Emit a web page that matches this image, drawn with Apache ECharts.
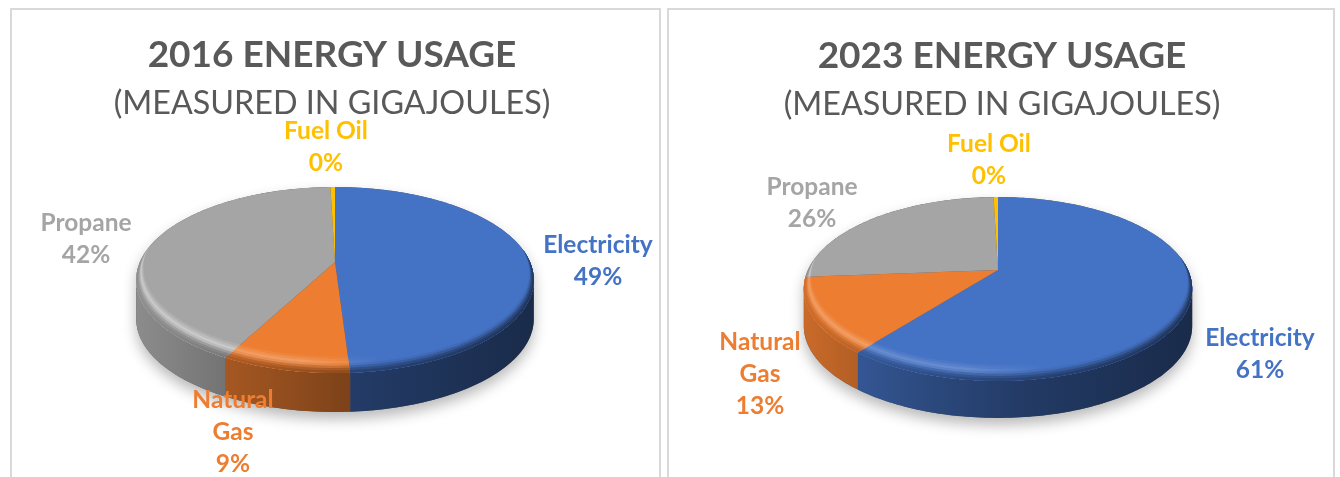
<!DOCTYPE html>
<html>
<head>
<meta charset="utf-8">
<style>
  html, body { margin: 0; padding: 0; background: #fff; }
  #main { width: 1340px; height: 477px; }
</style>
<script src="https://cdn.jsdelivr.net/npm/echarts@6/dist/echarts.min.js"></script>
</head>
<body>
<div id="main"></div>
<script>
const categories = ['Electricity', 'Natural Gas', 'Propane', 'Fuel Oil']
const labelNames = ['Electricity', 'Natural\nGas', 'Propane', 'Fuel Oil']
const usage2016 = [49.0, 8.7, 41.85, 0.45]
const usage2023 = [60.6, 13.2, 25.75, 0.45]
const colors = ['#4472c4', '#ed7d31', '#a5a5a5', '#ffc000']
const rimGlow = [0.18, 0.24, 0.4, 0.2]

// where each pie sits on the page, apex = centre of the tilted disc
const pie2016 = {
  apexX: 335, apexY: 262, b: 195, a: 89.5, k: -0.1935, depth: 39,
  labels: [[598, 261], [233, 432], [86, 239], [326, 147]]
}
const pie2023 = {
  apexX: 998, apexY: 270, b: 190, a: 88, k: -0.2065, depth: 37,
  labels: [[1260, 354], [760, 374], [812, 203], [989, 160]]
}

// bevel strips from inner to outer: how far in, how much glow, how much wall colour
const bevelStrips = [
  [1, 0.25, 0], [0.86, 0.6, 0], [0.72, 1, 0], [0.58, 0.8, 0.1],
  [0.44, 0.4, 0.35], [0.3, 0.1, 0.65], [0.16, 0, 0.85]
]
const shadeStops = [0, 0.22, 0.42, 0.62, 1]

function mixRgb(c, target, amount) {
  return [0, 1, 2].map(n => c[n] + (target[n] - c[n]) * amount)
}
function toCss(c) {
  return 'rgb(' + c.map(Math.round).join(',') + ')'
}

// how much of the base colour is lost on the side wall, left to right
function wallLoss(t) {
  if (t < 0.22) return 0.15 + (0.3 - 0.15) * t / 0.22
  if (t < 0.55) return 0.3 + (0.48 - 0.3) * (t - 0.22) / 0.33
  return 0.48 + (0.62 - 0.48) * (t - 0.55) / 0.45
}

// perspective map from angle on the disc (clockwise from 12 o'clock) to the page
function project(p, angle, scale) {
  const u = Math.sin(angle)
  const v = -Math.cos(angle)
  const w = 1 + p.k * v
  const s = scale === undefined ? 1 : scale
  return [p.apexX + s * p.b * u / w, p.apexY + s * p.a * v / w]
}

function sampleAngles(from, to) {
  const n = Math.max(2, Math.ceil((to - from) / 0.02))
  const out = []
  for (let i = 0; i <= n; i++) out.push(from + (to - from) * i / n)
  return out
}

function makePie(p, values) {
  const total = values.reduce((s, v) => s + v, 0)
  const left = p.apexX - p.b / Math.sqrt(1 - p.k * p.k)
  const right = p.apexX + p.b / Math.sqrt(1 - p.k * p.k)
  const wallFrom = Math.acos(p.k)
  const wallTo = Math.PI * 2 - wallFrom
  const black = [0, 0, 0]
  const white = [255, 255, 255]

  const wallFill = i => {
    const base = echarts.color.parse(colors[i]).slice(0, 3)
    return new echarts.graphic.LinearGradient(left, 0, right, 0, [0, 0.22, 0.55, 1].map(t => ({
      offset: t,
      color: toCss(mixRgb(base, black, wallLoss(t)))
    })), true)
  }

  const rimFill = (i, glow, toWall) => {
    const base = echarts.color.parse(colors[i]).slice(0, 3)
    return new echarts.graphic.LinearGradient(left, 0, right, 0, shadeStops.map(t => {
      const lit = t < 0.62 ? Math.min(1, (0.62 - t) / 0.2) : 0
      const c = mixRgb(base, white, rimGlow[i] * glow * lit)
      return { offset: t, color: toCss(mixRgb(c, mixRgb(base, black, wallLoss(t)), toWall)) }
    }), true)
  }

  return {
    type: 'custom',
    coordinateSystem: 'none',
    silent: true,
    data: values.map((v, i) => ({ name: categories[i], value: v })),
    renderItem: function (params, api) {
      const i = params.dataIndex
      const base = colors[i]
      const before = values.slice(0, i).reduce((s, v) => s + v, 0)
      const start = before / total * Math.PI * 2
      const end = (before + api.value(0)) / total * Math.PI * 2
      const children = []

      // disc outline with drop shadow, only once
      if (i === 0) {
        const outline = sampleAngles(wallFrom, wallTo).map(a => {
          const q = project(p, a)
          return [q[0], q[1] + p.depth]
        })
        sampleAngles(wallTo, wallFrom + Math.PI * 2).forEach(a => outline.push(project(p, a)))
        children.push({
          type: 'polygon',
          z2: -5,
          shape: { points: outline },
          style: {
            fill: '#555',
            shadowColor: 'rgba(0,0,0,0.28)',
            shadowBlur: 14,
            shadowOffsetY: 7
          }
        })
      }

      // side wall
      const wFrom = Math.max(start, wallFrom)
      const wTo = Math.min(end, wallTo)
      if (wTo > wFrom) {
        const topEdge = sampleAngles(wFrom, wTo).map(a => project(p, a))
        const lowEdge = topEdge.map(q => [q[0], q[1] + p.depth]).reverse()
        children.push({
          type: 'polygon',
          z2: 1,
          shape: { points: topEdge.concat(lowEdge) },
          style: { fill: wallFill(i) }
        })
      }

      // top face
      const face = [[p.apexX, p.apexY]]
      sampleAngles(start, end).forEach(a => face.push(project(p, a)))
      children.push({
        type: 'polygon',
        z2: 2,
        shape: { points: face },
        style: { fill: base }
      })

      // soft bevel along the near rim
      const bevelFrom = Math.max(start, Math.acos(p.k) - 0.45)
      const bevelTo = Math.min(end, Math.PI * 2 - Math.acos(p.k) + 0.45)
      if (bevelTo > bevelFrom && i !== 3) {
        bevelStrips.forEach((strip, j) => {
          const angles = sampleAngles(bevelFrom, bevelTo)
          const outer = angles.map(a => project(p, a))
          const inner = angles.map(a => {
            const v = -Math.cos(a)
            const t = Math.max(0, (v + 0.15) / 1.15)
            return project(p, a, 1 - 0.15 * t * strip[0])
          }).reverse()
          children.push({
            type: 'polygon',
            z2: 3 + j,
            shape: { points: outer.concat(inner) },
            style: { fill: rimFill(i, strip[1], strip[2]) }
          })
        })
      }

      // data label
      const pct = Math.round(api.value(0) / total * 100)
      children.push({
        type: 'text',
        z2: 20,
        style: {
          x: p.labels[i][0],
          y: p.labels[i][1],
          text: labelNames[i] + '\n' + pct + '%',
          fill: base,
          font: 'bold 24.5px Lato',
          lineHeight: 32,
          align: 'center',
          verticalAlign: 'middle'
        }
      })

      return { type: 'group', children: children }
    }
  }
}

const chart = echarts.init(document.getElementById('main'))

function titleBlock(text, sub, x, y) {
  return [
    {
      text: text,
      left: x,
      top: y,
      textAlign: 'center',
      padding: 0,
      textStyle: { fontFamily: 'Lato', fontWeight: 'bold', fontSize: 37, color: '#595959' }
    },
    {
      text: sub,
      left: x,
      top: y + 51,
      textAlign: 'center',
      padding: 0,
      textStyle: { fontFamily: 'Lato', fontWeight: 'normal', fontSize: 32.3, color: '#595959' }
    }
  ]
}

chart.setOption({
  animation: false,
  backgroundColor: '#fff',
  title: titleBlock('2016 ENERGY USAGE', '(MEASURED IN GIGAJOULES)', 332, 37)
    .concat(titleBlock('2023 ENERGY USAGE', '(MEASURED IN GIGAJOULES)', 1002, 38)),
  graphic: [
    { type: 'polyline', silent: true, shape: { points: [[11, 477], [11, 9], [660, 9], [660, 477]] }, style: { fill: 'none', stroke: '#d9d9d9', lineWidth: 2 } },
    { type: 'polyline', silent: true, shape: { points: [[668, 477], [668, 9], [1334, 9], [1334, 477]] }, style: { fill: 'none', stroke: '#d9d9d9', lineWidth: 2 } }
  ],
  series: [makePie(pie2016, usage2016), makePie(pie2023, usage2023)]
})
</script>
</body>
</html>
